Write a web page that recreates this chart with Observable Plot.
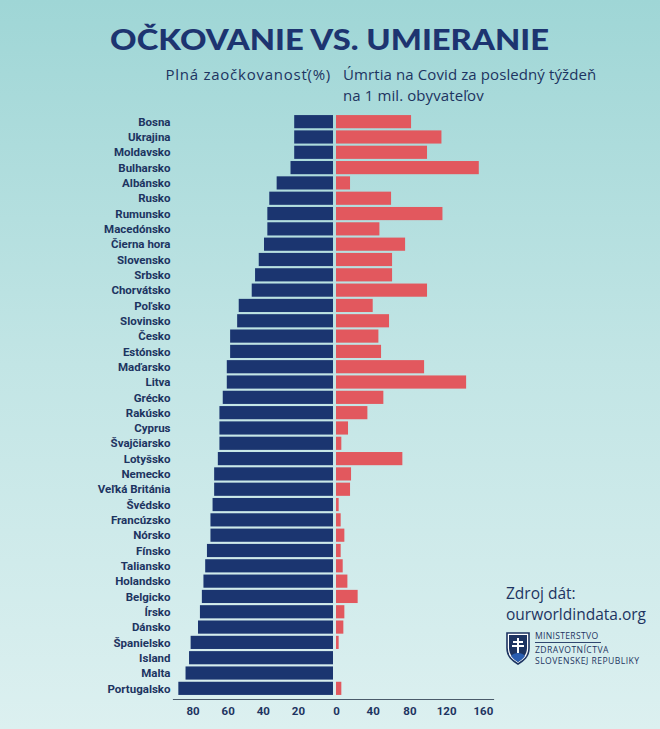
<!DOCTYPE html>
<html><head><meta charset="utf-8">
<script src="https://cdn.jsdelivr.net/npm/d3@7"></script>
<script src="https://cdn.jsdelivr.net/npm/@observablehq/plot@0.6"></script>
<style>
html,body{margin:0;padding:0;}
body{width:660px;height:729px;overflow:hidden;background:linear-gradient(180deg,#9fd6d6 0%,#c2e5e5 50%,#dcf0f0 100%);position:relative;color:#1d3461;}
#title{position:absolute;top:22px;left:0;width:660px;text-align:center;line-height:36px;}
#title span{display:inline-block;font:900 28px Lato,sans-serif;color:#1d3470;transform:scaleX(1.17);transform-origin:center;}
#subL{position:absolute;top:64px;right:329px;font:400 15px "Open Sans",sans-serif;letter-spacing:0.75px;line-height:21px;white-space:nowrap;}
#subR{position:absolute;top:64px;left:343px;font:400 15px "Open Sans",sans-serif;letter-spacing:0.1px;line-height:21px;white-space:nowrap;}
#left{position:absolute;top:100px;left:0;}
#right{position:absolute;top:100px;left:335px;}
#src{position:absolute;top:583px;left:506px;font:400 15.5px "Open Sans",sans-serif;line-height:21px;white-space:nowrap;}
#logo{position:absolute;top:630px;left:505px;}
svg text{font-weight:700;}
</style>
</head><body>
<div id="title"><span>OČKOVANIE VS. UMIERANIE</span></div>
<div id="subL">Plná zaočkovanosť(%)</div>
<div id="subR">Úmrtia na Covid za posledný týždeň<br>na 1 mil. obyvateľov</div>
<div id="left"></div>
<div id="right"></div>
<div id="src">Zdroj dát:<br>ourworldindata.org</div>
<div id="logo">
<svg width="150" height="38" viewBox="0 0 150 38">
<path d="M2 3 H24 V18 C24 27 18 31 13 34 C8 31 2 27 2 18 Z" fill="#ffffff" stroke="#1d3461" stroke-width="1.6"/>
<path d="M4 5 H22 V18 C22 25 17 29 13 32 C9 29 4 25 4 18 Z" fill="#1d3461"/>
<path d="M12 8 h2 v3 h4 v2 h-4 v2 h5 v2 h-5 v6 h-2 v-6 h-5 v-2 h5 v-2 h-4 v-2 h4 z" fill="#ffffff"/>
<path d="M6 26 C9 22 17 22 20 26 C18 29 15 31 13 32 C11 31 8 29 6 26 Z" fill="#2a5db0"/>
<text x="30" y="9" font-family="Open Sans" font-size="8.6" fill="#1d3461" style="font-weight:400" letter-spacing="0.3">MINISTERSTVO</text>
<line x1="30" y1="12.5" x2="96" y2="12.5" stroke="#1d3461" stroke-width="0.9"/>
<text x="30" y="23" font-family="Open Sans" font-size="8.6" fill="#1d3461" style="font-weight:400" letter-spacing="0.45">ZDRAVOTNÍCTVA</text>
<text x="30" y="33.5" font-family="Open Sans" font-size="8.6" fill="#1d3461" style="font-weight:400" letter-spacing="0.45">SLOVENSKEJ REPUBLIKY</text>
</svg>
</div>
<script>
const countries = ["Bosna","Ukrajina","Moldavsko","Bulharsko","Albánsko","Rusko","Rumunsko","Macedónsko","Čierna hora","Slovensko","Srbsko","Chorvátsko","Poľsko","Slovinsko","Česko","Estónsko","Maďarsko","Litva","Grécko","Rakúsko","Cyprus","Švajčiarsko","Lotyšsko","Nemecko","Veľká Británia","Švédsko","Francúzsko","Nórsko","Fínsko","Taliansko","Holandsko","Belgicko","Írsko","Dánsko","Španielsko","Island","Malta","Portugalsko"];
const vaccinated = [22.1,22.1,22.1,24.2,32.1,36.3,37.4,37.4,39.3,42.3,44.4,46.3,53.7,54.6,58.6,58.6,60.5,60.5,62.8,64.7,64.7,64.7,65.6,67.7,67.7,68.6,69.8,69.8,71.8,72.8,73.8,74.7,75.8,76.9,81.1,82.0,84.0,88.1];
const deaths = [81.8,114.9,99.2,155.6,15.3,60,116,47.3,75.3,61.1,61.1,99.2,40,57.8,46.2,49.1,96,141.8,51.6,34.2,13.1,5.8,72.3,16.4,15.3,2.9,5.1,9.1,5.1,7.3,12.4,23.6,9.1,8,2.9,0,0,5.8];
const leftTicks = [20,40,60,80];
const rightTicks = [0,40,80,120,160];

const rows = countries.map((c,i)=>({country:c, vac:vaccinated[i], death:deaths[i]}));
const navy = "#1b3570", red = "#e2585e", ink = "#1d3461";
const style = {background:"transparent", color:ink, fontFamily:"Roboto, sans-serif", fontSize:"11.5px", overflow:"visible"};

const left = Plot.plot({
  width:335, height:626, marginLeft:175, marginRight:2, marginTop:14, marginBottom:30,
  style,
  x:{domain:[0,90], reverse:true},
  y:{domain:countries, paddingInner:0.14, paddingOuter:0.07, round:false},
  marks:[
    Plot.barX(rows,{x:"vac", y:"country", fill:navy}),
    Plot.axisY({tickSize:0, tickPadding:5, fill:ink, fontWeight:700, label:null}),
    Plot.axisX({ticks:leftTicks, tickSize:0, tickPadding:10, fill:ink, label:null}),
    Plot.frame({anchor:"bottom", stroke:"#4a5a6a", strokeWidth:1.2, insetBottom:-3, insetLeft:-2, insetRight:-3})
  ]
});
document.getElementById("left").append(left);

const right = Plot.plot({
  width:325, height:626, marginLeft:1, marginRight:168, marginTop:14, marginBottom:30,
  style,
  x:{domain:[0,170]},
  y:{domain:countries, paddingInner:0.14, paddingOuter:0.07, round:false, axis:null},
  marks:[
    Plot.barX(rows,{x:"death", y:"country", fill:red}),
    Plot.axisX({ticks:rightTicks, tickSize:0, tickPadding:10, fill:ink, label:null}),
    Plot.frame({anchor:"bottom", stroke:"#4a5a6a", strokeWidth:1.2, insetBottom:-3, insetRight:-1})
  ]
});
document.getElementById("right").append(right);
</script>
</body></html>
